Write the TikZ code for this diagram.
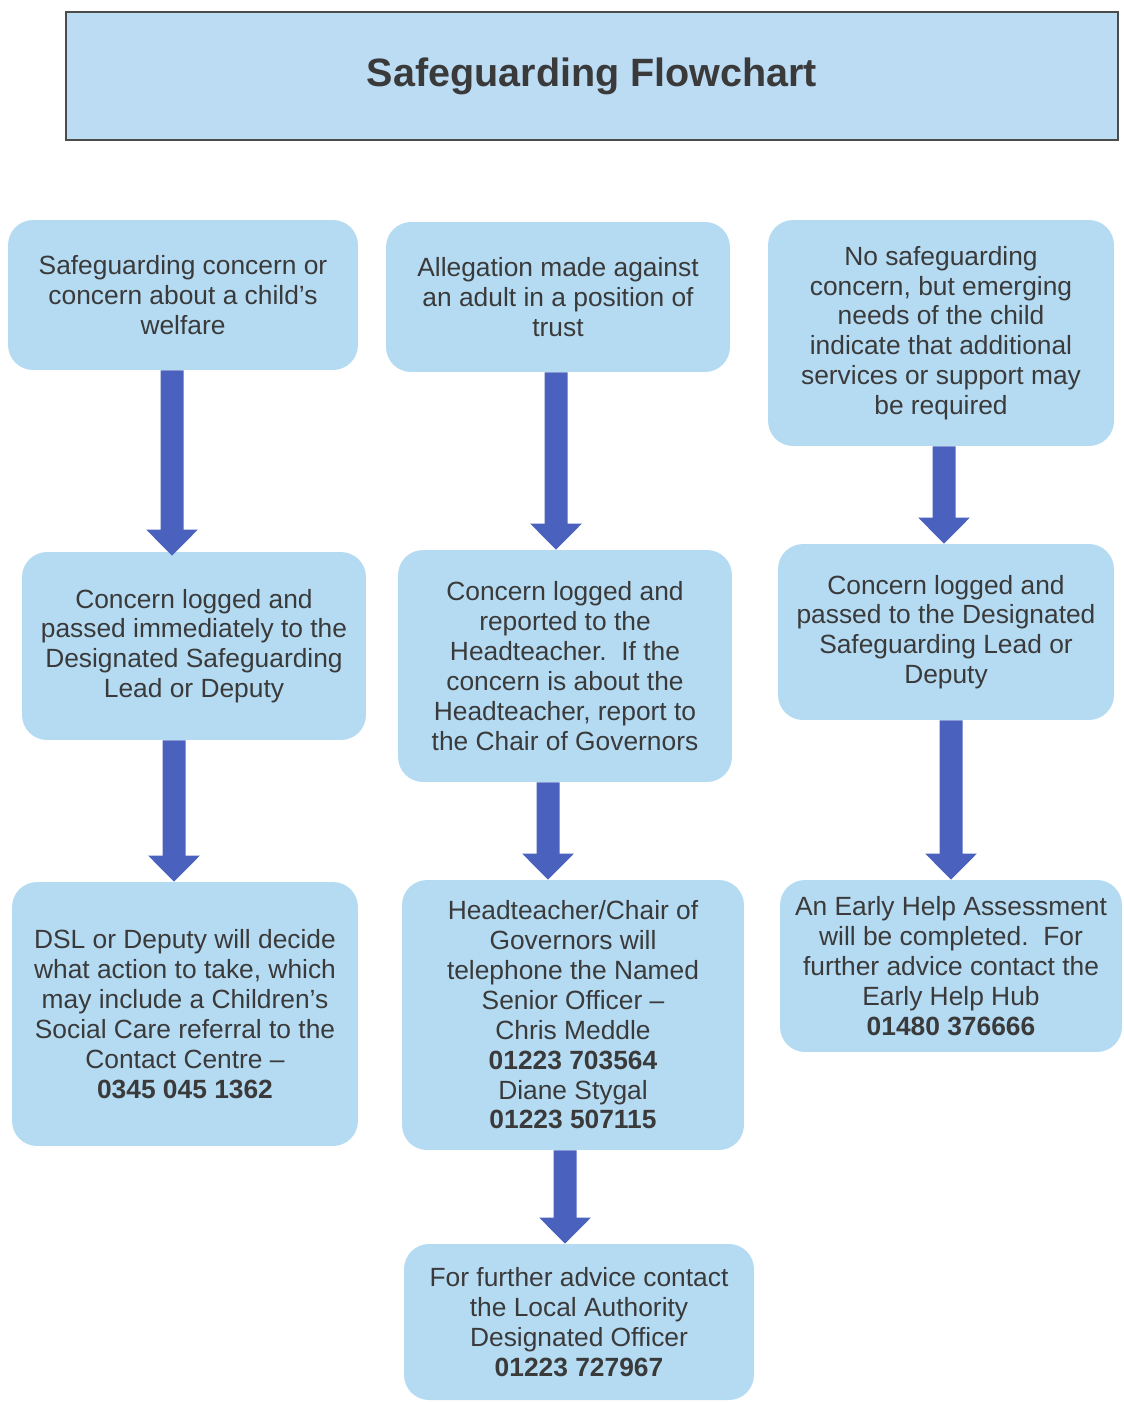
\documentclass[tikz,border=0pt]{standalone}
\usepackage{fontspec}
\setmainfont{Liberation Sans}
\usetikzlibrary{arrows.meta}
\definecolor{boxblue}{HTML}{B5DBF3}
\definecolor{titleblue}{HTML}{BCDCF4}
\definecolor{arrowblue}{HTML}{4A62BE}
\definecolor{inkgrey}{HTML}{3A3A3A}
\begin{document}
\begin{tikzpicture}[x=0.02cm,y=-0.02cm,
    box/.style={fill=boxblue, rounded corners=0.5cm, align=center, inner sep=0pt,
      text=inkgrey, font=\fontsize{15}{17}\selectfont},
    flow/.style={draw=arrowblue, line width=0.46cm,
      -{Triangle[width=1cm,length=0.52cm]}}]
    \useasboundingbox (0,0) rectangle (1124,1402);

    % heading
    \node[draw=black!70, line width=1.5pt, fill=titleblue, text=inkgrey,
      minimum width=21.04cm, minimum height=2.56cm,
      font=\bfseries\fontsize{22.5}{27}\selectfont] (title) at (592,76) {Safeguarding Flowchart};

    % left column
    \node[box, minimum width=7cm, minimum height=3cm] (a1) at (183,295)
      {Safeguarding concern or\\concern about a child's\\welfare};
    \node[box, minimum width=6.88cm, minimum height=3.76cm] (a2) at (194,646)
      {Concern logged and\\passed immediately to the\\Designated Safeguarding\\Lead or Deputy};
    \node[box, minimum width=6.92cm, minimum height=5.28cm] (a3) at (185,1014)
      {DSL or Deputy will decide\\what action to take, which\\may include a Children's\\Social Care referral to the\\Contact Centre --\\\textbf{0345 045 1362}};

    % middle column
    \node[box, minimum width=6.88cm, minimum height=3cm] (b1) at (558,297)
      {Allegation made against\\an adult in a position of\\trust};
    \node[box, minimum width=6.68cm, minimum height=4.64cm] (b2) at (565,666)
      {Concern logged and\\reported to the\\Headteacher.~~If the\\concern is about the\\Headteacher, report to\\the Chair of Governors};
    \node[box, minimum width=6.84cm, minimum height=5.4cm] (b3) at (573,1015)
      {Headteacher/Chair of\\Governors will\\telephone the Named\\Senior Officer --\\Chris Meddle\\\textbf{01223 703564}\\Diane Stygal\\\textbf{01223 507115}};
    \node[box, minimum width=7cm, minimum height=3.12cm] (b4) at (579,1322)
      {For further advice contact\\the Local Authority\\Designated Officer\\\textbf{01223 727967}};

    % right column
    \node[box, minimum width=6.92cm, minimum height=4.52cm] (c1) at (941,333)
      {No safeguarding\\concern, but emerging\\needs of the child\\indicate that additional\\services or support may\\be required};
    \node[box, minimum width=6.72cm, minimum height=3.52cm] (c2) at (946,632)
      {Concern logged and\\passed to the Designated\\Safeguarding Lead or\\Deputy};
    \node[box, minimum width=6.84cm, minimum height=3.44cm] (c3) at (951,966)
      {An Early Help Assessment\\will be completed.~~For\\further advice contact the\\Early Help Hub\\\textbf{01480 376666}};

    % arrows
    \draw[flow] ([xshift=-0.22cm]a1.south) -- ([xshift=-0.44cm,yshift=-0.08cm]a2.north);
    \draw[flow] ([xshift=-0.40cm]a2.south) -- ([xshift=-0.22cm]a3.north);
    \draw[flow] ([xshift=-0.04cm]b1.south) -- ([xshift=-0.18cm]b2.north);
    \draw[flow] ([xshift=-0.34cm]b2.south) -- ([xshift=-0.50cm]b3.north);
    \draw[flow] ([xshift=-0.16cm]b3.south) -- ([xshift=-0.28cm]b4.north);
    \draw[flow] ([xshift=0.06cm]c1.south) -- ([xshift=-0.04cm]c2.north);
    \draw[flow] ([xshift=0.10cm]c2.south) -- (c3.north);
  \end{tikzpicture}
\end{document}
